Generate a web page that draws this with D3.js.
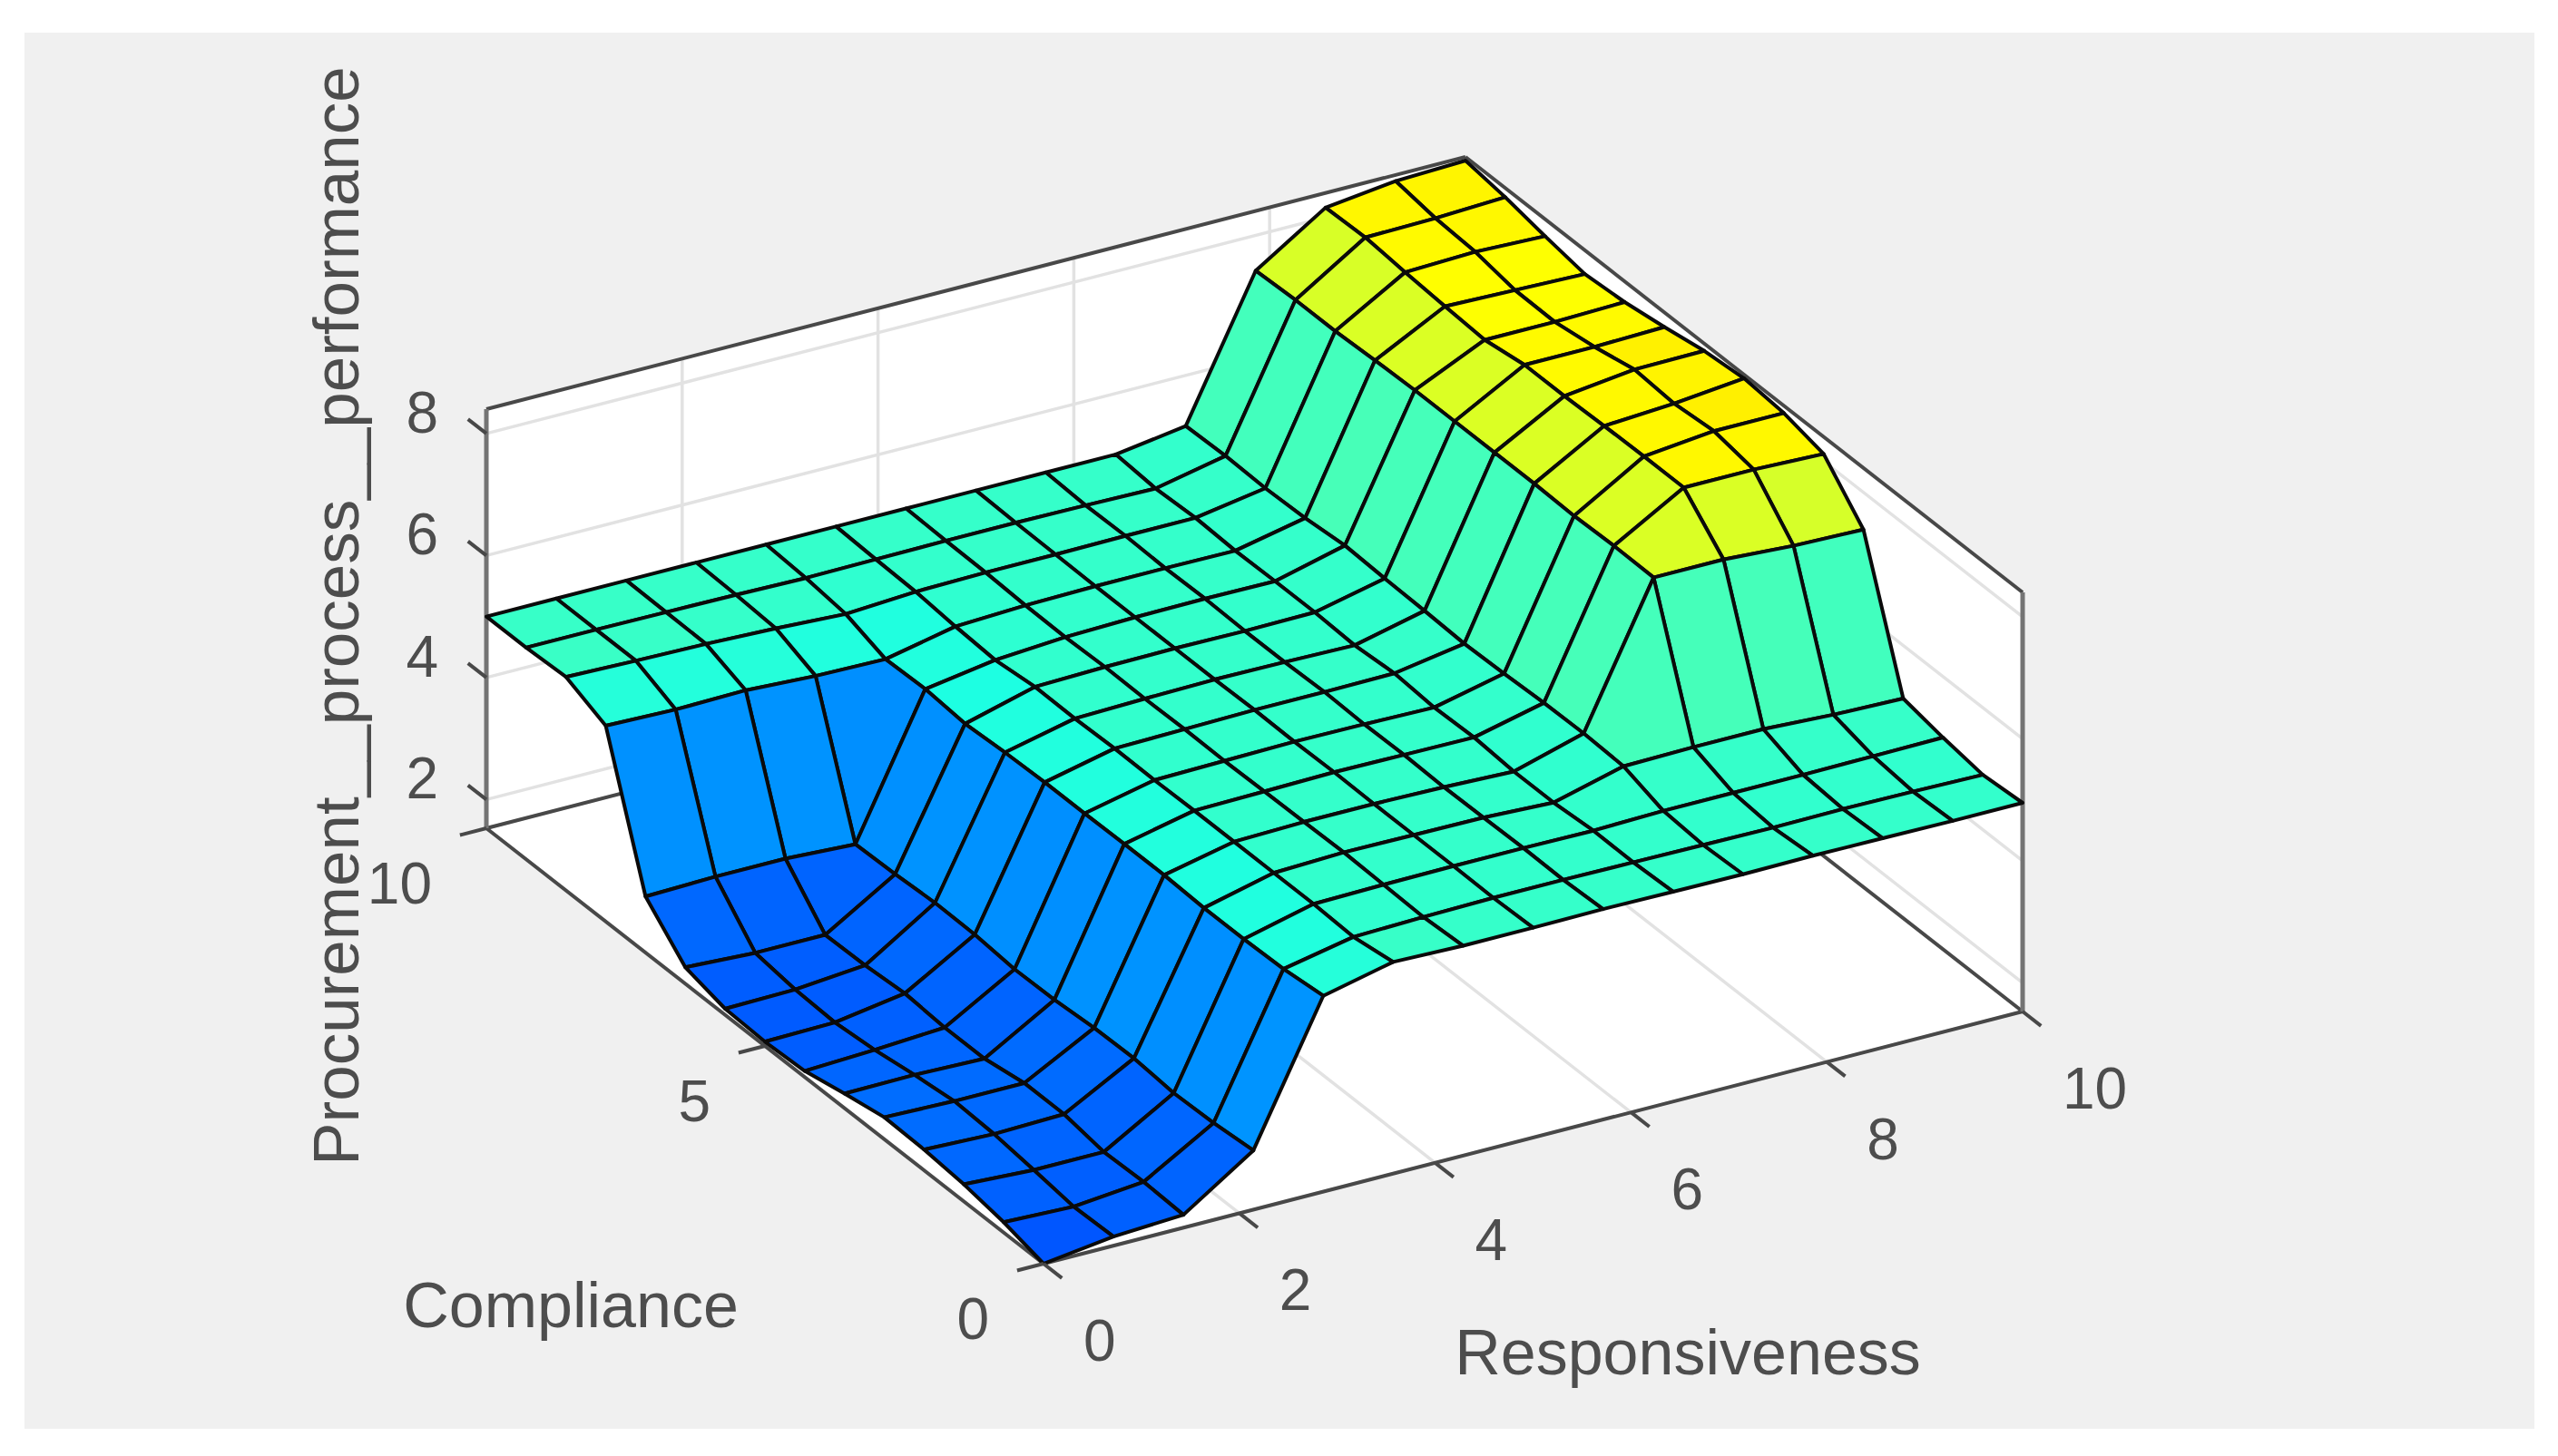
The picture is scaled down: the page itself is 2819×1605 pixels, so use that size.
<!DOCTYPE html>
<html>
<head>
<meta charset="utf-8">
<script src="https://cdn.jsdelivr.net/npm/d3@7"></script>
<style>
html, body { margin: 0; padding: 0; background: #fff; }
svg { display: block; }
text { font-family: "Liberation Sans", Arial, sans-serif; fill: #4d4d4d; }
</style>
</head>
<body>
<svg id="chart" width="2819" height="1605"></svg>
<script>
// Fuzzy inference output surface on a 15 x 15 grid.
const responsivenessGrid = [0, 0.714, 1.429, 2.143, 2.857, 3.571, 4.286, 5, 5.714, 6.429, 7.143, 7.857, 8.571, 9.286, 10];
const complianceGrid = [0, 0.714, 1.429, 2.143, 2.857, 3.571, 4.286, 5, 5.714, 6.429, 7.143, 7.857, 8.571, 9.286, 10];

// One row per compliance level, one column per responsiveness level.
const performance00 = [1.53, 1.68, 1.74, 2.50, 4.74, 5.00, 4.97, 4.97, 4.98, 4.97, 4.96, 4.97, 4.96, 4.95, 4.95];
const performance01 = [1.70, 1.66, 1.77, 2.44, 4.67, 4.90, 4.93, 4.95, 4.95, 4.94, 4.93, 4.92, 4.93, 4.92, 4.90];
const performance02 = [1.81, 1.75, 1.75, 2.42, 4.65, 4.93, 4.95, 4.96, 4.96, 4.95, 4.98, 4.98, 4.98, 4.99, 5.00];
const performance03 = [1.87, 1.83, 1.86, 2.48, 4.65, 4.93, 4.97, 4.96, 4.95, 4.90, 5.20, 5.22, 5.22, 5.16, 5.13];
const performance04 = [1.89, 1.86, 1.86, 2.47, 4.68, 4.93, 4.96, 4.96, 4.94, 4.90, 5.23, 7.49, 7.49, 7.42, 7.39];
const performance05 = [1.77, 1.78, 1.75, 2.42, 4.68, 4.93, 4.95, 4.97, 4.96, 4.95, 5.22, 7.50, 8.16, 8.16, 8.12];
const performance06 = [1.63, 1.68, 1.75, 2.41, 4.67, 4.92, 4.94, 4.96, 4.95, 4.93, 5.19, 7.48, 8.16, 8.28, 8.28];
const performance07 = [1.60, 1.62, 1.80, 2.47, 4.67, 4.93, 4.95, 4.97, 4.97, 4.98, 5.17, 7.50, 8.15, 8.22, 8.34];
const performance08 = [1.63, 1.65, 1.75, 2.48, 4.65, 4.91, 4.94, 4.96, 4.95, 4.93, 5.20, 7.50, 8.13, 8.27, 8.28];
const performance09 = [1.80, 1.74, 1.74, 2.44, 4.61, 4.92, 4.95, 4.96, 4.95, 4.96, 5.22, 7.50, 8.13, 8.13, 8.16];
const performance10 = [2.45, 2.48, 2.48, 2.42, 4.67, 4.85, 4.93, 4.96, 4.97, 4.96, 5.25, 7.50, 8.03, 8.03, 8.06];
const performance11 = [4.74, 4.71, 4.73, 4.67, 4.65, 4.89, 4.94, 4.96, 4.96, 4.95, 5.19, 7.48, 8.07, 8.04, 8.01];
const performance12 = [5.03, 5.00, 4.98, 4.94, 4.88, 4.95, 4.97, 4.97, 4.98, 4.98, 5.17, 7.45, 8.12, 8.16, 8.12];
const performance13 = [5.00, 5.00, 4.99, 4.98, 4.96, 4.97, 4.98, 4.98, 4.97, 4.95, 5.19, 7.45, 8.18, 8.20, 8.25];
const performance14 = [5.00, 5.00, 5.00, 5.00, 5.00, 5.00, 5.00, 5.00, 5.00, 5.00, 5.17, 7.42, 8.16, 8.30, 8.34];
const performanceRows = [performance00, performance01, performance02, performance03, performance04,
  performance05, performance06, performance07, performance08, performance09, performance10,
  performance11, performance12, performance13, performance14];

const responsivenessTicks = [0, 2, 4, 6, 8, 10];
const complianceTicks = [0, 5, 10];
const performanceTicks = [2, 4, 6, 8];
const axisTitles = {
  responsiveness: "Responsiveness",
  compliance: "Compliance",
  performance: "Procurement__process__performance"
};

const zMin = 1.53, zMax = 8.40;

// Oblique box projection: each data axis contributes a fixed screen vector.
const origin = { x: 1150, y: 1393 };
const rToX = d3.scaleLinear().domain([0, 10]).range([0, 1079]);
const rToY = d3.scaleLinear().domain([0, 10]).range([0, -278]);
const cToX = d3.scaleLinear().domain([0, 10]).range([0, -614]);
const cToY = d3.scaleLinear().domain([0, 10]).range([0, -480]);
const zToY = d3.scaleLinear().domain([zMin, zMax]).range([0, -462]);
const project = (r, c, z) => [origin.x + rToX(r) + cToX(c), origin.y + rToY(r) + cToY(c) + zToY(z)];

// Jet segment running blue - cyan - yellow - red across an extended value range.
const colour = d3.scaleLinear()
  .domain([0.18, 4.17, 8.05, 12.0])
  .range(["#0000ff", "#00ffff", "#ffff00", "#ff0000"]);

const svg = d3.select("#chart");
const line = d3.line();

svg.append("rect").attr("x", 27).attr("y", 36).attr("width", 2766).attr("height", 1539).attr("fill", "#f0f0f0");

// Back walls and floor of the box.
const walls = [
  [[0, 0, zMin], [10, 0, zMin], [10, 10, zMin], [0, 10, zMin]],
  [[0, 10, zMin], [10, 10, zMin], [10, 10, zMax], [0, 10, zMax]],
  [[10, 0, zMin], [10, 10, zMin], [10, 10, zMax], [10, 0, zMax]]
];
svg.append("g").selectAll("path").data(walls).join("path")
  .attr("d", w => line(w.map(p => project(...p))) + "Z")
  .attr("fill", "#fff");

// Grid lines.
const gridSegments = [];
responsivenessTicks.forEach(r => {
  gridSegments.push([[r, 0, zMin], [r, 10, zMin]]);
  gridSegments.push([[r, 10, zMin], [r, 10, zMax]]);
});
complianceTicks.forEach(c => {
  gridSegments.push([[0, c, zMin], [10, c, zMin]]);
  gridSegments.push([[10, c, zMin], [10, c, zMax]]);
});
performanceTicks.forEach(z => {
  gridSegments.push([[0, 10, z], [10, 10, z]]);
  gridSegments.push([[10, 10, z], [10, 0, z]]);
});
svg.append("g").selectAll("path").data(gridSegments).join("path")
  .attr("d", s => line(s.map(p => project(...p))))
  .attr("fill", "none").attr("stroke", "#e2e2e2").attr("stroke-width", 3.5);

// Box outline: sloped edges are dark, the two verticals a softer grey.
const boxEdges = [
  [[0, 10, zMin], [0, 0, zMin]],
  [[0, 0, zMin], [10, 0, zMin]],
  [[0, 10, zMin], [10, 10, zMin]],
  [[10, 0, zMin], [10, 10, zMin]],
  [[0, 10, zMax], [10, 10, zMax]],
  [[10, 10, zMax], [10, 0, zMax]]
];
const boxVerticals = [
  [[0, 10, zMin], [0, 10, zMax]],
  [[10, 0, zMin], [10, 0, zMax]]
];
svg.append("g").selectAll("path").data(boxEdges).join("path")
  .attr("d", s => line(s.map(p => project(...p))))
  .attr("fill", "none").attr("stroke", "#484848").attr("stroke-width", 4);
svg.append("g").selectAll("path").data(boxVerticals).join("path")
  .attr("d", s => line(s.map(p => project(...p))))
  .attr("fill", "none").attr("stroke", "#747474").attr("stroke-width", 5);

// Surface faces, farthest first. Each face takes the colour of its lowest-index vertex.
const faces = [];
for (let j = complianceGrid.length - 2; j >= 0; j--) {
  for (let i = responsivenessGrid.length - 2; i >= 0; i--) {
    faces.push({ i, j });
  }
}
const vertex = (i, j) => project(responsivenessGrid[i], complianceGrid[j], performanceRows[j][i]);
svg.append("g").selectAll("path").data(faces).join("path")
  .attr("d", f => line([vertex(f.i, f.j), vertex(f.i + 1, f.j), vertex(f.i + 1, f.j + 1), vertex(f.i, f.j + 1)]) + "Z")
  .attr("fill", f => colour(performanceRows[f.j][f.i]))
  .attr("stroke", "#0a0a0a").attr("stroke-width", 4).attr("stroke-linejoin", "round");

// Tick marks.
const tickSegments = [
  ...responsivenessTicks.map(r => [[r, 0, zMin], [r, -0.33, zMin]]),
  ...complianceTicks.map(c => [[0, c, zMin], [-0.27, c, zMin]]),
  ...performanceTicks.map(z => [[0, 10, z], [0, 10.33, z]])
];
svg.append("g").selectAll("path").data(tickSegments).join("path")
  .attr("d", s => line(s.map(p => project(...p))))
  .attr("fill", "none").attr("stroke", "#484848").attr("stroke-width", 4);

// Tick labels.
const tickFont = 64;
svg.append("g").selectAll("text").data(responsivenessTicks).join("text")
  .attr("x", r => project(r, 0, zMin)[0] + 44)
  .attr("y", r => project(r, 0, zMin)[1] + 84)
  .attr("dy", "0.36em").attr("font-size", tickFont).attr("text-anchor", "start").text(d => d);
svg.append("g").selectAll("text").data(complianceTicks).join("text")
  .attr("x", c => project(0, c, zMin)[0] - 60)
  .attr("y", c => project(0, c, zMin)[1] + 60)
  .attr("dy", "0.36em").attr("font-size", tickFont).attr("text-anchor", "end").text(d => d);
svg.append("g").selectAll("text").data(performanceTicks).join("text")
  .attr("x", z => project(0, 10, z)[0] - 53)
  .attr("y", z => project(0, 10, z)[1] - 24)
  .attr("dy", "0.36em").attr("font-size", tickFont).attr("text-anchor", "end").text(d => d);

// Axis titles.
svg.append("text").attr("x", 629).attr("y", 1438).attr("dy", "0.36em").attr("font-size", 70)
  .attr("text-anchor", "middle").text(axisTitles.compliance);
svg.append("text").attr("x", 1860).attr("y", 1490).attr("dy", "0.36em").attr("font-size", 70)
  .attr("text-anchor", "middle").text(axisTitles.responsiveness);
svg.append("text").attr("transform", "translate(395,679) rotate(-90)").attr("font-size", 71)
  .attr("text-anchor", "middle").text(axisTitles.performance);
</script>
</body>
</html>
